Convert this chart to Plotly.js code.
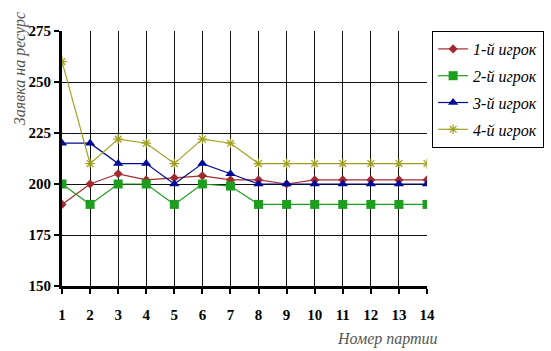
<!DOCTYPE html>
<html><head><meta charset="utf-8">
<script src="https://cdn.plot.ly/plotly-3.0.1.min.js"></script>
<style>body{margin:0;background:#fff}#c{width:551px;height:351px}</style>
</head><body><div id="c"></div>
<script>
const games = [1,2,3,4,5,6,7,8,9,10,11,12,13,14];
const names = ['1-й игрок','2-й игрок','3-й игрок','4-й игрок'];
const player1 = [190,200,205,202,203,204,202,202,200,202,202,202,202,202];
const player2 = [200,190,200,200,190,200,199,190,190,190,190,190,190,190];
const player3 = [220,220,210,210,200,210,205,200,200,200,200,200,200,200];
const player4 = [260,210,222,220,210,222,220,210,210,210,210,210,210,210];
const yTicks = [150,175,200,225,250,275];

const FT = 'Times New Roman';
const FI = 'Liberation Serif';
const colors = ['#A32A2E','#1E9E1E','#000A96','#A0A020'];
const symbols = ['diamond','square','triangle-up','asterisk-open'];
const msizes = [7,9,9,8];
const series = [player1,player2,player3,player4];

const traces = series.map((s,i)=>({
  x: games, y: s, name: names[i], type:'scatter', mode:'lines+markers',
  legendgroup:'g'+i,
  line:{color:colors[i], width:1.2},
  marker:{symbol:symbols[i], size:msizes[i], color:colors[i], line:{color:colors[i], width: i===3?1.2:0}}
}));

const layout = {
  width:551, height:351,
  margin:{l:62, r:124, t:31, b:65, autoexpand:false},
  paper_bgcolor:'#fff', plot_bgcolor:'#fff',
  font:{family:FT, color:'#000'},
  showlegend:true,
  legend:{x:1.014, y:1.0, xanchor:'left', yanchor:'top',
    bordercolor:'#000', borderwidth:1, bgcolor:'#fff',
    font:{family:FI, size:16, style:'italic', color:'#000'},
    tracegroupgap:3, itemwidth:30},
  xaxis:{range:[1,14], tickvals:games, ticktext:games.map(String),
    showgrid:true, gridcolor:'#111', gridwidth:1.2,
    showline:true, linecolor:'#000', linewidth:3, mirror:false,
    ticks:'outside', ticklen:5, tickwidth:2, tickcolor:'#000',
    ticklabelstandoff:8,
    tickfont:{family:FT, size:15, weight:'bold', color:'#000'},
    zeroline:false, fixedrange:true},
  yaxis:{range:[150,275], tickvals:yTicks,
    showgrid:true, gridcolor:'#111', gridwidth:1.2,
    showline:true, linecolor:'#000', linewidth:3,
    ticks:'outside', ticklen:5, tickwidth:2, tickcolor:'#000',
    tickfont:{family:FT, size:15, weight:'bold', color:'#000'},
    zeroline:false, fixedrange:true},
  annotations:[
    {text:'Заявка на ресурс', xref:'paper', yref:'paper', x:-0.115, y:1.08, xanchor:'center', yanchor:'top',
      textangle:-90, showarrow:false, font:{family:FI, size:16, style:'italic', color:'#555'}},
    {text:'Номер партии', xref:'paper', yref:'paper', x:1.036, y:-0.165, xanchor:'right', yanchor:'top',
      showarrow:false, font:{family:FI, size:16, style:'italic', color:'#555'}}
  ]
};
Plotly.newPlot('c', traces, layout, {displayModeBar:false});
</script></body></html>
